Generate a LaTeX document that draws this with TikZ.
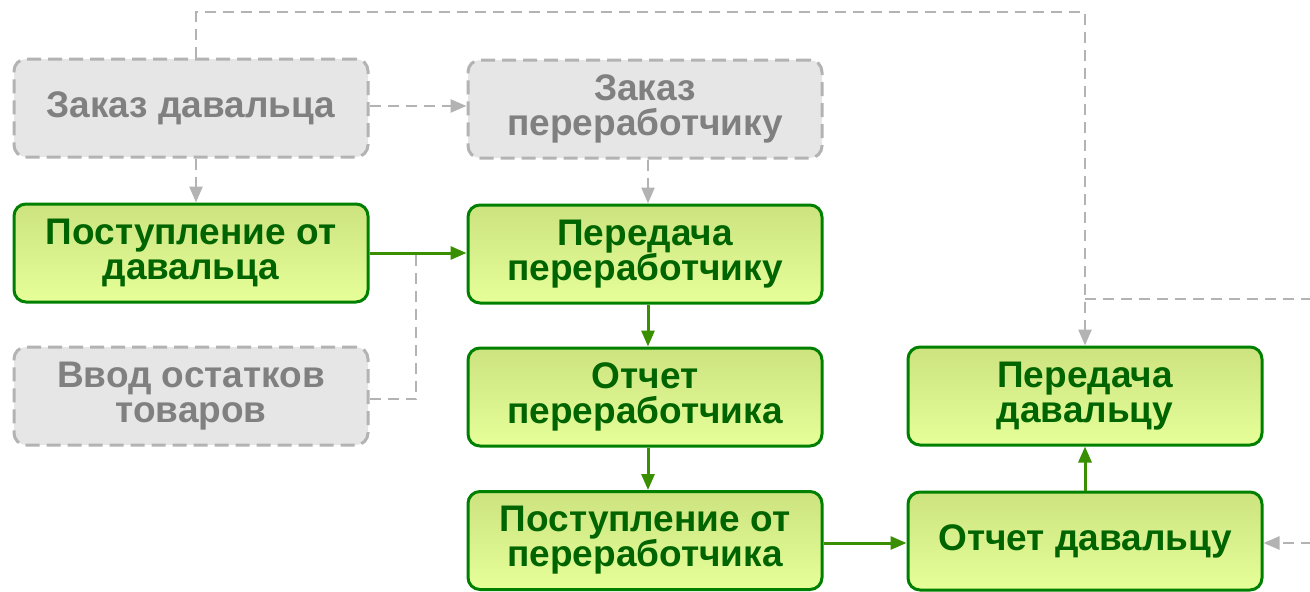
\documentclass[tikz,border=0pt]{standalone}
\usepackage{fontspec}
\setmainfont{Liberation Sans}
\usetikzlibrary{arrows.meta}
\definecolor{gborder}{HTML}{008000}
\definecolor{gtop}{HTML}{CCE37F}
\definecolor{gbot}{HTML}{E6FF99}
\definecolor{gtext}{HTML}{006400}
\definecolor{gline}{HTML}{3A8F00}
\definecolor{grfill}{HTML}{E6E6E6}
\definecolor{grborder}{HTML}{B3B3B3}
\definecolor{grtext}{HTML}{808080}
\definecolor{grline}{HTML}{B3B3B3}
\begin{document}
\begin{tikzpicture}[x=1pt,y=-1pt,
 box/.style={rounded corners=12pt, minimum width=354pt, minimum height=98pt, align=center, font=\fontsize{37}{35}\selectfont\bfseries, inner sep=0pt},
 gbox/.style={box, draw=gborder, line width=3pt, top color=gtop, bottom color=gbot, text=gtext},
 grbox/.style={box, draw=grborder, line width=3pt, fill=grfill, text=grtext, dash pattern=on 14pt off 7pt},
 gconn/.style={draw=gline, line width=3pt, -{Triangle[length=16pt,width=13pt]}},
 grconn/.style={draw=grline, line width=2.5pt, dash pattern=on 11pt off 7pt, -{Triangle[length=16pt,width=13pt]}},
 grline/.style={draw=grline, line width=2.5pt, dash pattern=on 11pt off 7pt},
]
\useasboundingbox (0,0) rectangle (1310,592);

\node[grbox] (A) at (191,108) {Заказ давальца};
\node[gbox]  (B) at (191,253) {Поступление от\\давальца};
\node[grbox] (C) at (191,396) {Ввод остатков\\товаров};
\node[grbox] (D) at (645,109) {Заказ\\переработчику};
\node[gbox]  (E) at (645,254) {Передача\\переработчику};
\node[gbox]  (F) at (645,397) {Отчет\\переработчика};
\node[gbox]  (G) at (645,540.5) {Поступление от\\переработчика};
\node[gbox]  (H) at (1085,396) {Передача\\давальцу};
\node[gbox]  (I) at (1085,541) {Отчет давальцу};

\coordinate (t1) at (196,12);
\coordinate (t2) at (1085,12);
\coordinate (r1) at (1312,299);
\coordinate (r2) at (1085,299);
\coordinate (c1) at (416,399);
\coordinate (c2) at (416,253);
\coordinate (r3) at (1312,543);
\coordinate (ad) at (400,106);

% gray connectors
\draw[grconn] ([xshift=5pt]A.south) -- ([xshift=5pt]B.north);
\draw[grconn] ([xshift=3pt]D.south) -- ([xshift=3pt]D.south |- E.north);
\draw[grconn] (A.east |- ad) -- (D.west |- ad);
\draw[grconn] ([xshift=5pt]A.north) -- (t1) -- (t2) -- (H.north);
\draw[grline] (r1) -- (r2);
\draw[grline] (C.east |- c1) -- (c1) -- (c2);
\draw[grconn] (r3) -- (I.east |- r3);

% green connectors
\draw[gconn] (B.east) -- (E.west |- B.east);
\draw[gconn] ([xshift=3pt]E.south) -- ([xshift=3pt]E.south |- F.north);
\draw[gconn] ([xshift=3pt]F.south) -- ([xshift=3pt]F.south |- G.north);
\draw[gconn] (G.east |- r3) -- (I.west |- r3);
\draw[gconn] (I.north) -- (H.south);
\end{tikzpicture}
\end{document}
